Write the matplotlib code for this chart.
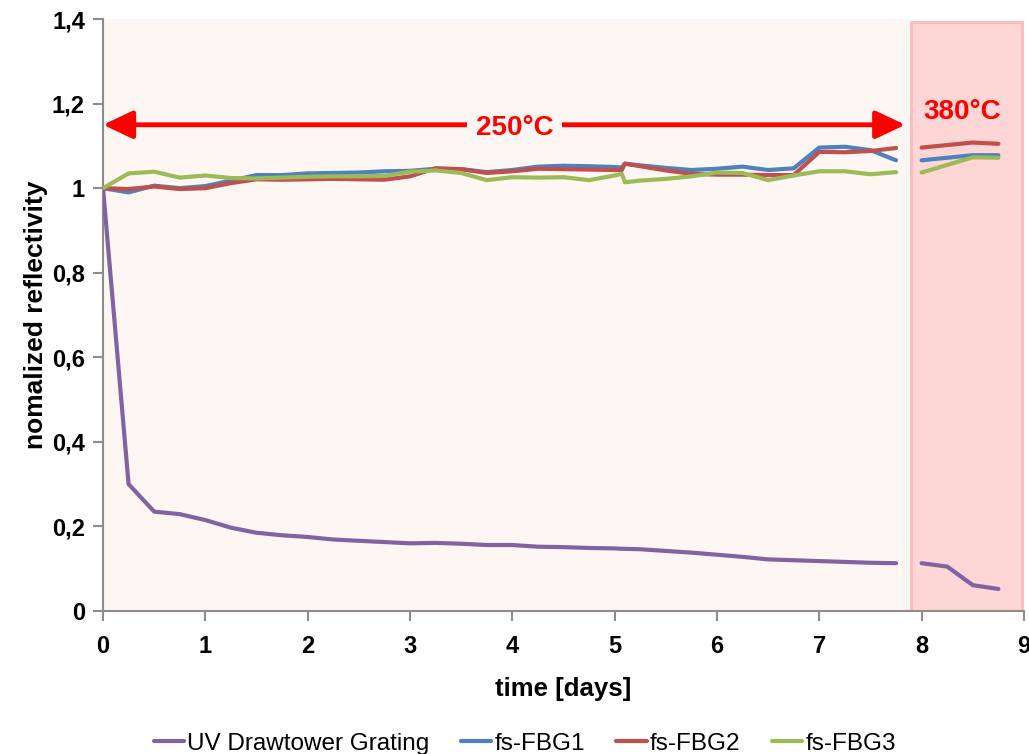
import matplotlib
matplotlib.use("Agg")
import matplotlib.pyplot as plt
from matplotlib.ticker import FuncFormatter
from matplotlib.patches import Rectangle

plt.rcParams["font.family"] = ["Liberation Sans", "DejaVu Sans"]

# time axis (days) for the 250 °C phase and the 380 °C phase
t_250 = [0, 0.25, 0.5, 0.75, 1.0, 1.25, 1.5, 1.75, 2.0, 2.25, 2.5, 2.75, 3.0,
         3.25, 3.5, 3.75, 4.0, 4.25, 4.5, 4.75, 5.0, 5.07, 5.1, 5.25, 5.5,
         5.75, 6.0, 6.25, 6.5, 6.75, 7.0, 7.25, 7.5, 7.75]
t_380 = [8.0, 8.25, 8.5, 8.75]

uv_250 = [1.0, 0.30, 0.235, 0.229, 0.215, 0.197, 0.185, 0.179, 0.175, 0.169,
          0.166, 0.163, 0.160, 0.161, 0.159, 0.156, 0.156, 0.152, 0.151, 0.149,
          0.148, 0.147, 0.147, 0.146, 0.142, 0.138, 0.133, 0.128, 0.122, 0.120,
          0.118, 0.116, 0.114, 0.113]
fbg1_250 = [1.0, 0.99, 1.006, 1.0, 1.005, 1.018, 1.031, 1.031, 1.035, 1.036,
            1.037, 1.040, 1.041, 1.046, 1.045, 1.038, 1.043, 1.051, 1.053, 1.052,
            1.050, 1.049, 1.058, 1.054, 1.048, 1.043, 1.046, 1.051, 1.043, 1.047,
            1.096, 1.098, 1.090, 1.066]
fbg2_250 = [1.0, 0.998, 1.004, 0.998, 1.0, 1.012, 1.021, 1.020, 1.021, 1.022,
            1.021, 1.020, 1.028, 1.047, 1.045, 1.036, 1.040, 1.046, 1.045, 1.044,
            1.043, 1.043, 1.058, 1.052, 1.042, 1.034, 1.032, 1.032, 1.031, 1.031,
            1.086, 1.085, 1.088, 1.095]
fbg3_250 = [1.0, 1.035, 1.039, 1.025, 1.030, 1.024, 1.023, 1.025, 1.027, 1.028,
            1.028, 1.029, 1.039, 1.042, 1.036, 1.019, 1.026, 1.025, 1.026, 1.019,
            1.030, 1.034, 1.014, 1.018, 1.022, 1.028, 1.037, 1.036, 1.019, 1.030,
            1.040, 1.040, 1.033, 1.038]

uv_380 = [0.113, 0.105, 0.061, 0.052]
fbg1_380 = [1.066, 1.072, 1.078, 1.078]
fbg2_380 = [1.096, 1.102, 1.108, 1.105]
fbg3_380 = [1.037, 1.055, 1.073, 1.072]

names = ["UV Drawtower Grating", "fs-FBG1", "fs-FBG2", "fs-FBG3"]
colors = ["#8064A2", "#4F81BD", "#C0504D", "#9BBB59"]

fig = plt.figure(figsize=(10.29, 7.54), dpi=100)
ax = fig.add_axes([0.1001, 0.1897, 0.895, 0.785])

ax.set_xlim(0, 9)
ax.set_ylim(0, 1.4)

# temperature phases
ax.add_patch(Rectangle((0, 0), 7.88, 1.4, facecolor="#FEF6F3", edgecolor="none", zorder=0))
ax.add_patch(Rectangle((7.9, 0), 1.08, 1.393, facecolor="#FFD6D6", edgecolor="#FFB8B8",
                       lw=2, zorder=0))

series_250 = [uv_250, fbg1_250, fbg2_250, fbg3_250]
series_380 = [uv_380, fbg1_380, fbg2_380, fbg3_380]
for s1, s2, c, n in zip(series_250, series_380, colors, names):
    ax.plot(t_250, s1, color=c, lw=3, label=n, solid_joinstyle="round",
            solid_capstyle="round", zorder=3)
    ax.plot(t_380, s2, color=c, lw=3, solid_joinstyle="round",
            solid_capstyle="round", zorder=3)

# 250 °C arrow
ax.annotate("", xy=(0.0, 1.15), xytext=(7.84, 1.15),
            arrowprops=dict(arrowstyle="<|-|>,head_length=1.8,head_width=0.85",
                            color="red", lw=3.5, shrinkA=0, shrinkB=0), zorder=4)
ax.text(4.02, 1.15, "250°C", color="red", fontsize=20, fontweight="bold",
        ha="center", va="center_baseline", zorder=5,
        bbox=dict(facecolor="#FEF6F3", edgecolor="none", pad=6))
ax.text(8.40, 1.187, "380°C", color="red", fontsize=20, fontweight="bold",
        ha="center", va="center_baseline", zorder=5)

for side in ["top", "right"]:
    ax.spines[side].set_visible(False)
for side in ["left", "bottom"]:
    ax.spines[side].set_color("#8C8C8C")
    ax.spines[side].set_linewidth(1.5)

ax.set_xticks(range(10))
ax.set_yticks([0, 0.2, 0.4, 0.6, 0.8, 1.0, 1.2, 1.4])
ax.yaxis.set_major_formatter(FuncFormatter(lambda v, p: f"{v:g}".replace(".", ",")))
ax.tick_params(axis="both", direction="out", length=7, width=1.5, color="#8C8C8C",
               labelsize=17)
ax.tick_params(axis="x", pad=10)
ax.tick_params(axis="y", pad=6)
for lab in ax.get_xticklabels() + ax.get_yticklabels():
    lab.set_fontweight("bold")

ax.set_xlabel("time [days]", fontsize=18.5, fontweight="bold", labelpad=14)
ax.set_ylabel("nomalized reflectivity", fontsize=19, fontweight="bold", labelpad=3)

fig.legend(loc="lower center", bbox_to_anchor=(0.51, -0.03), ncol=4, frameon=False,
           fontsize=17.5, handlelength=1.25, handletextpad=0.12, columnspacing=1.3)

fig.savefig("out.png", dpi=100)
